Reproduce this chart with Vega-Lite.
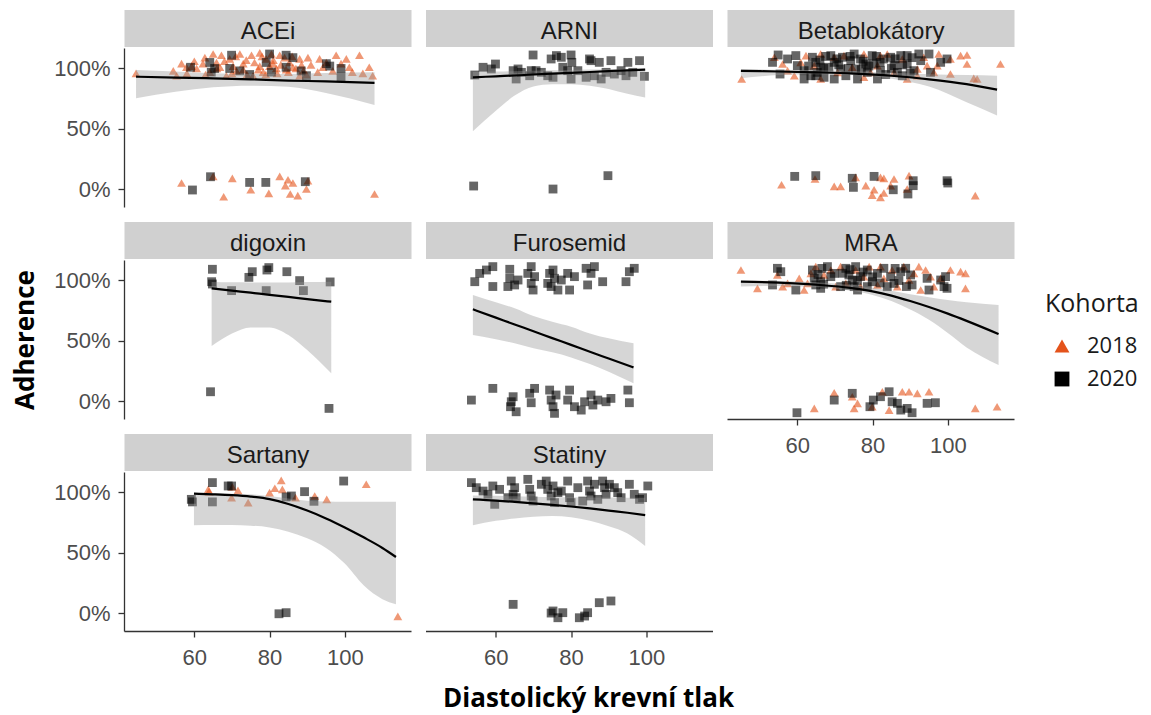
{
"$schema":"https://vega.github.io/schema/vega-lite/v6.json",
"padding":{"left":12,"top":19,"right":10,"bottom":5},
"background":"#ffffff",
"datasets":{
"pts":[
{"p":"ACEi","k":"2018","x":44.5,"y":0.96},{"p":"ACEi","k":"2018","x":54.4,"y":0.98},{"p":"ACEi","k":"2018","x":56.6,"y":1.04},{"p":"ACEi","k":"2018","x":59.3,"y":1.02},{"p":"ACEi","k":"2018","x":62.8,"y":1.09},{"p":"ACEi","k":"2018","x":65.0,"y":1.12},{"p":"ACEi","k":"2018","x":67.2,"y":1.11},{"p":"ACEi","k":"2018","x":69.4,"y":1.08},{"p":"ACEi","k":"2018","x":72.1,"y":1.12},{"p":"ACEi","k":"2018","x":73.0,"y":1.04},{"p":"ACEi","k":"2018","x":75.2,"y":1.11},{"p":"ACEi","k":"2018","x":77.4,"y":1.13},{"p":"ACEi","k":"2018","x":79.1,"y":1.08},{"p":"ACEi","k":"2018","x":80.5,"y":1.12},{"p":"ACEi","k":"2018","x":82.7,"y":1.11},{"p":"ACEi","k":"2018","x":85.3,"y":1.05},{"p":"ACEi","k":"2018","x":88.0,"y":1.08},{"p":"ACEi","k":"2018","x":90.2,"y":1.09},{"p":"ACEi","k":"2018","x":93.3,"y":1.08},{"p":"ACEi","k":"2018","x":94.2,"y":1.01},{"p":"ACEi","k":"2018","x":97.7,"y":1.11},{"p":"ACEi","k":"2018","x":100.4,"y":1.08},{"p":"ACEi","k":"2018","x":103.9,"y":1.11},{"p":"ACEi","k":"2018","x":106.5,"y":1.01},{"p":"ACEi","k":"2018","x":107.4,"y":0.94},{"p":"ACEi","k":"2018","x":104.8,"y":0.96},{"p":"ACEi","k":"2018","x":92.8,"y":0.97},{"p":"ACEi","k":"2018","x":89.8,"y":0.95},{"p":"ACEi","k":"2018","x":84.4,"y":0.99},{"p":"ACEi","k":"2018","x":81.8,"y":1.0},{"p":"ACEi","k":"2018","x":78.3,"y":0.97},{"p":"ACEi","k":"2018","x":75.6,"y":0.94},{"p":"ACEi","k":"2018","x":71.2,"y":0.98},{"p":"ACEi","k":"2018","x":66.8,"y":1.01},{"p":"ACEi","k":"2018","x":64.1,"y":0.97},{"p":"ACEi","k":"2018","x":62.3,"y":1.04},{"p":"ACEi","k":"2018","x":60.6,"y":1.0},{"p":"ACEi","k":"2018","x":57.9,"y":1.01},{"p":"ACEi","k":"2018","x":55.3,"y":0.94},{"p":"ACEi","k":"2018","x":68.5,"y":0.94},{"p":"ACEi","k":"2018","x":88.0,"y":0.94},{"p":"ACEi","k":"2018","x":95.1,"y":1.05},{"p":"ACEi","k":"2018","x":80.9,"y":1.04},{"p":"ACEi","k":"2018","x":77.4,"y":1.02},{"p":"ACEi","k":"2018","x":73.8,"y":1.07},{"p":"ACEi","k":"2018","x":70.3,"y":1.02},{"p":"ACEi","k":"2018","x":65.9,"y":1.05},{"p":"ACEi","k":"2018","x":86.2,"y":1.01},{"p":"ACEi","k":"2018","x":101.2,"y":1.01},{"p":"ACEi","k":"2018","x":96.8,"y":0.98},{"p":"ACEi","k":"2018","x":66,"y":1.0},{"p":"ACEi","k":"2018","x":68,"y":1.06},{"p":"ACEi","k":"2018","x":70,"y":0.96},{"p":"ACEi","k":"2018","x":71,"y":1.1},{"p":"ACEi","k":"2018","x":73,"y":0.99},{"p":"ACEi","k":"2018","x":74,"y":0.95},{"p":"ACEi","k":"2018","x":76,"y":1.05},{"p":"ACEi","k":"2018","x":77,"y":0.99},{"p":"ACEi","k":"2018","x":78,"y":1.1},{"p":"ACEi","k":"2018","x":79,"y":0.95},{"p":"ACEi","k":"2018","x":80,"y":1.02},{"p":"ACEi","k":"2018","x":81,"y":1.07},{"p":"ACEi","k":"2018","x":82,"y":0.96},{"p":"ACEi","k":"2018","x":83,"y":1.03},{"p":"ACEi","k":"2018","x":84,"y":1.09},{"p":"ACEi","k":"2018","x":85,"y":0.97},{"p":"ACEi","k":"2018","x":86,"y":1.1},{"p":"ACEi","k":"2018","x":87,"y":1.0},{"p":"ACEi","k":"2018","x":88.5,"y":1.03},{"p":"ACEi","k":"2018","x":89,"y":0.98},{"p":"ACEi","k":"2018","x":91,"y":1.03},{"p":"ACEi","k":"2018","x":63,"y":0.95},{"p":"ACEi","k":"2018","x":60,"y":1.06},{"p":"ACEi","k":"2018","x":58,"y":0.96},{"p":"ACEi","k":"2018","x":99,"y":1.04},{"p":"ACEi","k":"2018","x":102,"y":0.97},
{"p":"ACEi","k":"2018","x":56.6,"y":0.05},{"p":"ACEi","k":"2018","x":65.0,"y":0.105},{"p":"ACEi","k":"2018","x":67.8,"y":-0.064},{"p":"ACEi","k":"2018","x":70.1,"y":0.089},{"p":"ACEi","k":"2018","x":75.0,"y":-0.006},{"p":"ACEi","k":"2018","x":79.8,"y":-0.036},{"p":"ACEi","k":"2018","x":82.7,"y":0.105},{"p":"ACEi","k":"2018","x":84.2,"y":0.028},{"p":"ACEi","k":"2018","x":84.9,"y":0.077},{"p":"ACEi","k":"2018","x":85.5,"y":-0.041},{"p":"ACEi","k":"2018","x":86.2,"y":0.05},{"p":"ACEi","k":"2018","x":87.5,"y":-0.055},{"p":"ACEi","k":"2018","x":89.8,"y":0.0},{"p":"ACEi","k":"2018","x":90.2,"y":0.069},{"p":"ACEi","k":"2018","x":107.9,"y":-0.041},
{"p":"ACEi","k":"2020","x":59.0,"y":1.01},{"p":"ACEi","k":"2020","x":64.1,"y":1.05},{"p":"ACEi","k":"2020","x":64.5,"y":0.97},{"p":"ACEi","k":"2020","x":69.9,"y":1.11},{"p":"ACEi","k":"2020","x":69.4,"y":1.0},{"p":"ACEi","k":"2020","x":72.1,"y":0.98},{"p":"ACEi","k":"2020","x":74.7,"y":0.95},{"p":"ACEi","k":"2020","x":80.0,"y":1.12},{"p":"ACEi","k":"2020","x":80.5,"y":0.97},{"p":"ACEi","k":"2020","x":84.4,"y":1.11},{"p":"ACEi","k":"2020","x":84.4,"y":1.01},{"p":"ACEi","k":"2020","x":86.2,"y":1.09},{"p":"ACEi","k":"2020","x":88.4,"y":0.98},{"p":"ACEi","k":"2020","x":89.8,"y":0.94},{"p":"ACEi","k":"2020","x":95.1,"y":1.04},{"p":"ACEi","k":"2020","x":96.0,"y":1.02},{"p":"ACEi","k":"2020","x":99.0,"y":1.0},{"p":"ACEi","k":"2020","x":99.0,"y":0.93},{"p":"ACEi","k":"2020","x":65.4,"y":1.0},{"p":"ACEi","k":"2020","x":79.1,"y":1.05},
{"p":"ACEi","k":"2020","x":59.5,"y":-0.008},{"p":"ACEi","k":"2020","x":64.3,"y":0.102},{"p":"ACEi","k":"2020","x":74.7,"y":0.055},{"p":"ACEi","k":"2020","x":79.0,"y":0.055},{"p":"ACEi","k":"2020","x":89.5,"y":0.061},
{"p":"ARNI","k":"2020","x":54.4,"y":0.946},{"p":"ARNI","k":"2020","x":56.6,"y":1.01},{"p":"ARNI","k":"2020","x":59.9,"y":1.037},{"p":"ARNI","k":"2020","x":64.6,"y":0.982},{"p":"ARNI","k":"2020","x":65.4,"y":0.913},{"p":"ARNI","k":"2020","x":65.9,"y":0.996},{"p":"ARNI","k":"2020","x":69.0,"y":0.94},{"p":"ARNI","k":"2020","x":69.9,"y":1.112},{"p":"ARNI","k":"2020","x":69.4,"y":0.982},{"p":"ARNI","k":"2020","x":70.7,"y":0.982},{"p":"ARNI","k":"2020","x":73.8,"y":0.94},{"p":"ARNI","k":"2020","x":74.7,"y":1.079},{"p":"ARNI","k":"2020","x":75.2,"y":0.927},{"p":"ARNI","k":"2020","x":76.1,"y":1.107},{"p":"ARNI","k":"2020","x":77.4,"y":1.093},{"p":"ARNI","k":"2020","x":77.8,"y":1.01},{"p":"ARNI","k":"2020","x":79.1,"y":0.982},{"p":"ARNI","k":"2020","x":80.0,"y":1.112},{"p":"ARNI","k":"2020","x":80.2,"y":1.051},{"p":"ARNI","k":"2020","x":80.0,"y":0.913},{"p":"ARNI","k":"2020","x":84.0,"y":0.927},{"p":"ARNI","k":"2020","x":84.9,"y":1.079},{"p":"ARNI","k":"2020","x":85.3,"y":1.065},{"p":"ARNI","k":"2020","x":86.2,"y":0.94},{"p":"ARNI","k":"2020","x":87.5,"y":1.051},{"p":"ARNI","k":"2020","x":88.0,"y":0.913},{"p":"ARNI","k":"2020","x":89.3,"y":0.968},{"p":"ARNI","k":"2020","x":90.6,"y":1.065},{"p":"ARNI","k":"2020","x":91.5,"y":0.954},{"p":"ARNI","k":"2020","x":94.6,"y":0.94},{"p":"ARNI","k":"2020","x":95.1,"y":1.051},{"p":"ARNI","k":"2020","x":96.4,"y":0.968},{"p":"ARNI","k":"2020","x":98.2,"y":1.065},{"p":"ARNI","k":"2020","x":99.5,"y":0.935},{"p":"ARNI","k":"2020","x":66.8,"y":0.968},{"p":"ARNI","k":"2020","x":72.1,"y":0.968},{"p":"ARNI","k":"2020","x":81.8,"y":0.982},{"p":"ARNI","k":"2020","x":93.3,"y":0.982},{"p":"ARNI","k":"2020","x":58.8,"y":0.996},{"p":"ARNI","k":"2020","x":54.1,"y":0.025},{"p":"ARNI","k":"2020","x":75.2,"y":0.0},{"p":"ARNI","k":"2020","x":89.8,"y":0.111},
{"p":"Betablokátory","k":"2018","x":45.2,"y":0.913},{"p":"Betablokátory","k":"2018","x":53.9,"y":1.093},{"p":"Betablokátory","k":"2018","x":56.1,"y":1.037},{"p":"Betablokátory","k":"2018","x":60.9,"y":1.051},{"p":"Betablokátory","k":"2018","x":62.3,"y":1.107},{"p":"Betablokátory","k":"2018","x":66.2,"y":1.12},{"p":"Betablokátory","k":"2018","x":69.8,"y":1.093},{"p":"Betablokátory","k":"2018","x":72.4,"y":1.107},{"p":"Betablokátory","k":"2018","x":77.7,"y":1.12},{"p":"Betablokátory","k":"2018","x":82.1,"y":1.107},{"p":"Betablokátory","k":"2018","x":83.9,"y":1.12},{"p":"Betablokátory","k":"2018","x":87.9,"y":1.079},{"p":"Betablokátory","k":"2018","x":91.9,"y":0.996},{"p":"Betablokátory","k":"2018","x":93.6,"y":1.093},{"p":"Betablokátory","k":"2018","x":97.6,"y":1.12},{"p":"Betablokátory","k":"2018","x":100.7,"y":1.079},{"p":"Betablokátory","k":"2018","x":103.4,"y":1.107},{"p":"Betablokátory","k":"2018","x":105.1,"y":1.112},{"p":"Betablokátory","k":"2018","x":105.1,"y":1.037},{"p":"Betablokátory","k":"2018","x":106.9,"y":0.918},{"p":"Betablokátory","k":"2018","x":114.0,"y":1.037},{"p":"Betablokátory","k":"2018","x":91.9,"y":0.94},{"p":"Betablokátory","k":"2018","x":96.3,"y":0.968},{"p":"Betablokátory","k":"2018","x":89.2,"y":0.913},{"p":"Betablokátory","k":"2018","x":77.7,"y":0.927},{"p":"Betablokátory","k":"2018","x":66.2,"y":0.913},{"p":"Betablokátory","k":"2018","x":59.2,"y":0.94},{"p":"Betablokátory","k":"2018","x":74.6,"y":1.01},{"p":"Betablokátory","k":"2018","x":81.3,"y":1.024},{"p":"Betablokátory","k":"2018","x":85.7,"y":0.968},{"p":"Betablokátory","k":"2018","x":57.4,"y":0.982},{"p":"Betablokátory","k":"2018","x":70.7,"y":0.968},{"p":"Betablokátory","k":"2018","x":79.5,"y":0.968},{"p":"Betablokátory","k":"2018","x":97.2,"y":1.024},{"p":"Betablokátory","k":"2018","x":100.7,"y":0.954},{"p":"Betablokátory","k":"2018","x":107.8,"y":0.913},{"p":"Betablokátory","k":"2018","x":64.5,"y":1.024},{"p":"Betablokátory","k":"2018","x":94.5,"y":1.024},
{"p":"Betablokátory","k":"2018","x":55.8,"y":0.036},{"p":"Betablokátory","k":"2018","x":64.7,"y":0.083},{"p":"Betablokátory","k":"2018","x":69.8,"y":0.022},{"p":"Betablokátory","k":"2018","x":71.5,"y":0.022},{"p":"Betablokátory","k":"2018","x":75.5,"y":0.097},{"p":"Betablokátory","k":"2018","x":78.2,"y":0.028},{"p":"Betablokátory","k":"2018","x":80.4,"y":-0.006},{"p":"Betablokátory","k":"2018","x":82.1,"y":0.097},{"p":"Betablokátory","k":"2018","x":83.0,"y":0.089},{"p":"Betablokátory","k":"2018","x":79.9,"y":-0.05},{"p":"Betablokátory","k":"2018","x":82.1,"y":-0.069},{"p":"Betablokátory","k":"2018","x":85.7,"y":0.083},{"p":"Betablokátory","k":"2018","x":84.8,"y":0.028},{"p":"Betablokátory","k":"2018","x":89.7,"y":0.111},{"p":"Betablokátory","k":"2018","x":89.2,"y":0.0},{"p":"Betablokátory","k":"2018","x":107.3,"y":-0.055},{"p":"Betablokátory","k":"2018","x":83.0,"y":-0.033},
{"p":"Betablokátory","k":"2020","x":53.4,"y":1.051},{"p":"Betablokátory","k":"2020","x":54.9,"y":1.112},{"p":"Betablokátory","k":"2020","x":55.4,"y":0.954},{"p":"Betablokátory","k":"2020","x":59.6,"y":1.107},{"p":"Betablokátory","k":"2020","x":60.0,"y":1.024},{"p":"Betablokátory","k":"2020","x":64.0,"y":1.093},{"p":"Betablokátory","k":"2020","x":64.9,"y":1.051},{"p":"Betablokátory","k":"2020","x":65.3,"y":0.968},{"p":"Betablokátory","k":"2020","x":66.2,"y":1.01},{"p":"Betablokátory","k":"2020","x":68.9,"y":1.107},{"p":"Betablokátory","k":"2020","x":69.8,"y":1.051},{"p":"Betablokátory","k":"2020","x":69.8,"y":0.913},{"p":"Betablokátory","k":"2020","x":71.5,"y":0.996},{"p":"Betablokátory","k":"2020","x":72.9,"y":0.94},{"p":"Betablokátory","k":"2020","x":74.2,"y":1.065},{"p":"Betablokátory","k":"2020","x":75.1,"y":1.12},{"p":"Betablokátory","k":"2020","x":75.5,"y":0.996},{"p":"Betablokátory","k":"2020","x":76.8,"y":1.079},{"p":"Betablokátory","k":"2020","x":78.6,"y":0.968},{"p":"Betablokátory","k":"2020","x":79.9,"y":1.107},{"p":"Betablokátory","k":"2020","x":80.4,"y":1.037},{"p":"Betablokátory","k":"2020","x":82.1,"y":0.982},{"p":"Betablokátory","k":"2020","x":83.0,"y":1.079},{"p":"Betablokátory","k":"2020","x":84.8,"y":1.093},{"p":"Betablokátory","k":"2020","x":85.7,"y":1.024},{"p":"Betablokátory","k":"2020","x":87.5,"y":1.107},{"p":"Betablokátory","k":"2020","x":87.9,"y":0.94},{"p":"Betablokátory","k":"2020","x":89.2,"y":1.037},{"p":"Betablokátory","k":"2020","x":91.0,"y":0.982},{"p":"Betablokátory","k":"2020","x":92.8,"y":1.065},{"p":"Betablokátory","k":"2020","x":95.0,"y":1.12},{"p":"Betablokátory","k":"2020","x":95.4,"y":0.968},{"p":"Betablokátory","k":"2020","x":98.1,"y":1.051},{"p":"Betablokátory","k":"2020","x":99.8,"y":1.079},{"p":"Betablokátory","k":"2020","x":63.6,"y":0.94},{"p":"Betablokátory","k":"2020","x":67.1,"y":0.927},{"p":"Betablokátory","k":"2020","x":61.8,"y":0.982},{"p":"Betablokátory","k":"2020","x":57.4,"y":1.079},{"p":"Betablokátory","k":"2020","x":81.3,"y":0.913},{"p":"Betablokátory","k":"2020","x":76.0,"y":0.913},{"p":"Betablokátory","k":"2020","x":89.2,"y":1.107},{"p":"Betablokátory","k":"2020","x":92.3,"y":1.12},{"p":"Betablokátory","k":"2020","x":86.6,"y":0.968},{"p":"Betablokátory","k":"2020","x":72.0,"y":1.093},{"p":"Betablokátory","k":"2020","x":78.2,"y":1.037},{"p":"Betablokátory","k":"2020","x":68.4,"y":1.01},{"p":"Betablokátory","k":"2020","x":64.9,"y":0.94},{"p":"Betablokátory","k":"2020","x":61.8,"y":0.913},{"p":"Betablokátory","k":"2020","x":66,"y":1.07},{"p":"Betablokátory","k":"2020","x":67,"y":1.0},{"p":"Betablokátory","k":"2020","x":70.5,"y":1.08},{"p":"Betablokátory","k":"2020","x":71,"y":1.03},{"p":"Betablokátory","k":"2020","x":73.5,"y":1.0},{"p":"Betablokátory","k":"2020","x":74,"y":1.1},{"p":"Betablokátory","k":"2020","x":77,"y":0.99},{"p":"Betablokátory","k":"2020","x":77.5,"y":1.06},{"p":"Betablokátory","k":"2020","x":79,"y":1.02},{"p":"Betablokátory","k":"2020","x":81,"y":1.1},{"p":"Betablokátory","k":"2020","x":82,"y":1.05},{"p":"Betablokátory","k":"2020","x":83.5,"y":0.95},{"p":"Betablokátory","k":"2020","x":85,"y":1.0},{"p":"Betablokátory","k":"2020","x":86,"y":1.08},{"p":"Betablokátory","k":"2020","x":88,"y":1.03},{"p":"Betablokátory","k":"2020","x":90,"y":0.96},{"p":"Betablokátory","k":"2020","x":90.5,"y":1.09},{"p":"Betablokátory","k":"2020","x":67.5,"y":1.1},{"p":"Betablokátory","k":"2020","x":63,"y":1.02},
{"p":"Betablokátory","k":"2020","x":59.3,"y":0.105},{"p":"Betablokátory","k":"2020","x":64.9,"y":0.111},{"p":"Betablokátory","k":"2020","x":74.6,"y":0.089},{"p":"Betablokátory","k":"2020","x":74.9,"y":0.014},{"p":"Betablokátory","k":"2020","x":80.4,"y":0.105},{"p":"Betablokátory","k":"2020","x":85.5,"y":-0.006},{"p":"Betablokátory","k":"2020","x":90.8,"y":0.069},{"p":"Betablokátory","k":"2020","x":90.8,"y":0.028},{"p":"Betablokátory","k":"2020","x":89.4,"y":-0.041},{"p":"Betablokátory","k":"2020","x":99.8,"y":0.069},{"p":"Betablokátory","k":"2020","x":100.0,"y":0.05},
{"p":"digoxin","k":"2020","x":64.8,"y":1.093},{"p":"digoxin","k":"2020","x":64.6,"y":0.99},{"p":"digoxin","k":"2020","x":64.8,"y":0.971},{"p":"digoxin","k":"2020","x":69.9,"y":0.916},{"p":"digoxin","k":"2020","x":74.5,"y":1.026},{"p":"digoxin","k":"2020","x":75.4,"y":1.073},{"p":"digoxin","k":"2020","x":79.3,"y":1.087},{"p":"digoxin","k":"2020","x":79.8,"y":1.107},{"p":"digoxin","k":"2020","x":79.1,"y":0.916},{"p":"digoxin","k":"2020","x":84.6,"y":1.073},{"p":"digoxin","k":"2020","x":88.0,"y":0.999},{"p":"digoxin","k":"2020","x":89.0,"y":0.916},{"p":"digoxin","k":"2020","x":96.1,"y":0.988},{"p":"digoxin","k":"2020","x":64.3,"y":0.077},{"p":"digoxin","k":"2020","x":95.8,"y":-0.061},
{"p":"Furosemid","k":"2020","x":54.4,"y":0.99},{"p":"Furosemid","k":"2020","x":55.7,"y":1.059},{"p":"Furosemid","k":"2020","x":57.5,"y":1.087},{"p":"Furosemid","k":"2020","x":59.2,"y":1.115},{"p":"Furosemid","k":"2020","x":59.2,"y":0.95},{"p":"Furosemid","k":"2020","x":63.7,"y":1.093},{"p":"Furosemid","k":"2020","x":63.7,"y":1.018},{"p":"Furosemid","k":"2020","x":65.0,"y":0.963},{"p":"Furosemid","k":"2020","x":65.9,"y":1.004},{"p":"Furosemid","k":"2020","x":68.5,"y":1.059},{"p":"Furosemid","k":"2020","x":69.4,"y":0.976},{"p":"Furosemid","k":"2020","x":69.9,"y":0.921},{"p":"Furosemid","k":"2020","x":70.3,"y":1.032},{"p":"Furosemid","k":"2020","x":73.8,"y":0.976},{"p":"Furosemid","k":"2020","x":74.3,"y":1.059},{"p":"Furosemid","k":"2020","x":75.2,"y":1.087},{"p":"Furosemid","k":"2020","x":75.6,"y":1.018},{"p":"Furosemid","k":"2020","x":76.5,"y":0.921},{"p":"Furosemid","k":"2020","x":77.4,"y":1.004},{"p":"Furosemid","k":"2020","x":79.1,"y":1.059},{"p":"Furosemid","k":"2020","x":79.6,"y":0.921},{"p":"Furosemid","k":"2020","x":80.9,"y":1.032},{"p":"Furosemid","k":"2020","x":84.0,"y":1.101},{"p":"Furosemid","k":"2020","x":84.4,"y":0.963},{"p":"Furosemid","k":"2020","x":85.3,"y":1.059},{"p":"Furosemid","k":"2020","x":88.4,"y":0.99},{"p":"Furosemid","k":"2020","x":94.6,"y":0.99},{"p":"Furosemid","k":"2020","x":95.5,"y":1.073},{"p":"Furosemid","k":"2020","x":96.8,"y":1.101},{"p":"Furosemid","k":"2020","x":63.2,"y":0.95},{"p":"Furosemid","k":"2020","x":69.4,"y":1.115},{"p":"Furosemid","k":"2020","x":74.7,"y":0.95},{"p":"Furosemid","k":"2020","x":86.2,"y":1.115},
{"p":"Furosemid","k":"2020","x":53.5,"y":0.008},{"p":"Furosemid","k":"2020","x":59.2,"y":0.105},{"p":"Furosemid","k":"2020","x":63.9,"y":-0.047},{"p":"Furosemid","k":"2020","x":64.6,"y":0.036},{"p":"Furosemid","k":"2020","x":65.4,"y":-0.089},{"p":"Furosemid","k":"2020","x":69.0,"y":0.064},{"p":"Furosemid","k":"2020","x":69.4,"y":-0.014},{"p":"Furosemid","k":"2020","x":70.3,"y":0.105},{"p":"Furosemid","k":"2020","x":74.3,"y":0.091},{"p":"Furosemid","k":"2020","x":74.7,"y":0.008},{"p":"Furosemid","k":"2020","x":75.2,"y":-0.047},{"p":"Furosemid","k":"2020","x":75.6,"y":-0.102},{"p":"Furosemid","k":"2020","x":79.1,"y":0.008},{"p":"Furosemid","k":"2020","x":79.6,"y":0.091},{"p":"Furosemid","k":"2020","x":82.7,"y":-0.075},{"p":"Furosemid","k":"2020","x":83.6,"y":-0.006},{"p":"Furosemid","k":"2020","x":85.3,"y":0.05},{"p":"Furosemid","k":"2020","x":87.1,"y":0.008},{"p":"Furosemid","k":"2020","x":89.3,"y":-0.006},{"p":"Furosemid","k":"2020","x":90.6,"y":0.022},{"p":"Furosemid","k":"2020","x":95.1,"y":0.091},{"p":"Furosemid","k":"2020","x":95.5,"y":-0.014},{"p":"Furosemid","k":"2020","x":64.1,"y":-0.006},{"p":"Furosemid","k":"2020","x":76.0,"y":0.05},{"p":"Furosemid","k":"2020","x":80.9,"y":-0.047},{"p":"Furosemid","k":"2020","x":85.8,"y":-0.033},
{"p":"MRA","k":"2018","x":45.0,"y":1.087},{"p":"MRA","k":"2018","x":49.4,"y":0.935},{"p":"MRA","k":"2018","x":54.7,"y":1.046},{"p":"MRA","k":"2018","x":56.1,"y":0.949},{"p":"MRA","k":"2018","x":57.4,"y":0.976},{"p":"MRA","k":"2018","x":60.5,"y":1.018},{"p":"MRA","k":"2018","x":62.7,"y":0.976},{"p":"MRA","k":"2018","x":64.9,"y":1.115},{"p":"MRA","k":"2018","x":67.1,"y":1.046},{"p":"MRA","k":"2018","x":68.9,"y":1.087},{"p":"MRA","k":"2018","x":70.2,"y":0.949},{"p":"MRA","k":"2018","x":71.5,"y":1.115},{"p":"MRA","k":"2018","x":72.9,"y":0.976},{"p":"MRA","k":"2018","x":75.5,"y":1.087},{"p":"MRA","k":"2018","x":77.7,"y":1.032},{"p":"MRA","k":"2018","x":79.1,"y":1.115},{"p":"MRA","k":"2018","x":82.1,"y":1.115},{"p":"MRA","k":"2018","x":83.0,"y":1.018},{"p":"MRA","k":"2018","x":85.2,"y":1.087},{"p":"MRA","k":"2018","x":86.6,"y":0.949},{"p":"MRA","k":"2018","x":88.3,"y":1.115},{"p":"MRA","k":"2018","x":89.7,"y":1.004},{"p":"MRA","k":"2018","x":91.0,"y":1.059},{"p":"MRA","k":"2018","x":92.3,"y":1.115},{"p":"MRA","k":"2018","x":94.1,"y":1.087},{"p":"MRA","k":"2018","x":95.4,"y":1.032},{"p":"MRA","k":"2018","x":98.1,"y":1.018},{"p":"MRA","k":"2018","x":100.7,"y":1.087},{"p":"MRA","k":"2018","x":103.4,"y":1.073},{"p":"MRA","k":"2018","x":104.7,"y":1.059},{"p":"MRA","k":"2018","x":104.7,"y":0.935},{"p":"MRA","k":"2018","x":63.6,"y":1.059},{"p":"MRA","k":"2018","x":76.8,"y":0.949},{"p":"MRA","k":"2018","x":81.3,"y":0.963},{"p":"MRA","k":"2018","x":92.8,"y":0.921},{"p":"MRA","k":"2018","x":96.3,"y":0.949},{"p":"MRA","k":"2018","x":61.8,"y":0.921},
{"p":"MRA","k":"2018","x":64.5,"y":-0.061},{"p":"MRA","k":"2018","x":69.8,"y":0.069},{"p":"MRA","k":"2018","x":74.6,"y":0.036},{"p":"MRA","k":"2018","x":75.1,"y":-0.061},{"p":"MRA","k":"2018","x":76.0,"y":-0.019},{"p":"MRA","k":"2018","x":79.9,"y":-0.047},{"p":"MRA","k":"2018","x":82.6,"y":0.077},{"p":"MRA","k":"2018","x":84.4,"y":-0.075},{"p":"MRA","k":"2018","x":87.9,"y":0.077},{"p":"MRA","k":"2018","x":89.7,"y":0.077},{"p":"MRA","k":"2018","x":91.9,"y":0.064},{"p":"MRA","k":"2018","x":95.0,"y":0.077},{"p":"MRA","k":"2018","x":107.3,"y":-0.061},{"p":"MRA","k":"2018","x":113.1,"y":-0.047},
{"p":"MRA","k":"2020","x":53.4,"y":0.963},{"p":"MRA","k":"2020","x":54.7,"y":1.101},{"p":"MRA","k":"2020","x":55.6,"y":1.073},{"p":"MRA","k":"2020","x":59.6,"y":0.921},{"p":"MRA","k":"2020","x":64.0,"y":1.087},{"p":"MRA","k":"2020","x":64.5,"y":1.018},{"p":"MRA","k":"2020","x":64.9,"y":0.963},{"p":"MRA","k":"2020","x":66.2,"y":0.99},{"p":"MRA","k":"2020","x":68.0,"y":1.115},{"p":"MRA","k":"2020","x":68.9,"y":1.032},{"p":"MRA","k":"2020","x":69.8,"y":1.059},{"p":"MRA","k":"2020","x":71.5,"y":0.949},{"p":"MRA","k":"2020","x":72.9,"y":1.101},{"p":"MRA","k":"2020","x":73.7,"y":1.046},{"p":"MRA","k":"2020","x":74.6,"y":1.004},{"p":"MRA","k":"2020","x":75.1,"y":0.949},{"p":"MRA","k":"2020","x":75.5,"y":1.115},{"p":"MRA","k":"2020","x":76.0,"y":0.921},{"p":"MRA","k":"2020","x":76.8,"y":1.032},{"p":"MRA","k":"2020","x":78.6,"y":1.087},{"p":"MRA","k":"2020","x":79.9,"y":0.99},{"p":"MRA","k":"2020","x":81.3,"y":1.059},{"p":"MRA","k":"2020","x":83.0,"y":1.101},{"p":"MRA","k":"2020","x":83.9,"y":0.949},{"p":"MRA","k":"2020","x":84.8,"y":1.032},{"p":"MRA","k":"2020","x":85.7,"y":0.976},{"p":"MRA","k":"2020","x":87.5,"y":1.073},{"p":"MRA","k":"2020","x":88.8,"y":1.101},{"p":"MRA","k":"2020","x":90.1,"y":1.046},{"p":"MRA","k":"2020","x":90.5,"y":0.963},{"p":"MRA","k":"2020","x":94.5,"y":1.018},{"p":"MRA","k":"2020","x":95.0,"y":0.921},{"p":"MRA","k":"2020","x":98.1,"y":1.004},{"p":"MRA","k":"2020","x":99.0,"y":0.949},{"p":"MRA","k":"2020","x":99.8,"y":0.935},{"p":"MRA","k":"2020","x":99.4,"y":1.032},{"p":"MRA","k":"2020","x":78.6,"y":0.949},{"p":"MRA","k":"2020","x":66.2,"y":0.935},{"p":"MRA","k":"2020","x":65.5,"y":1.05},{"p":"MRA","k":"2020","x":66.5,"y":1.1},{"p":"MRA","k":"2020","x":67,"y":0.97},{"p":"MRA","k":"2020","x":72,"y":1.06},{"p":"MRA","k":"2020","x":73,"y":0.96},{"p":"MRA","k":"2020","x":74,"y":1.09},{"p":"MRA","k":"2020","x":76,"y":1.0},{"p":"MRA","k":"2020","x":77.5,"y":1.07},{"p":"MRA","k":"2020","x":80,"y":1.03},{"p":"MRA","k":"2020","x":82,"y":0.98},{"p":"MRA","k":"2020","x":86,"y":1.1},{"p":"MRA","k":"2020","x":87,"y":1.0},{"p":"MRA","k":"2020","x":89,"y":0.95},
{"p":"MRA","k":"2020","x":59.9,"y":-0.097},{"p":"MRA","k":"2020","x":69.8,"y":0.008},{"p":"MRA","k":"2020","x":74.6,"y":0.064},{"p":"MRA","k":"2020","x":79.3,"y":-0.047},{"p":"MRA","k":"2020","x":80.2,"y":0.008},{"p":"MRA","k":"2020","x":82.1,"y":0.036},{"p":"MRA","k":"2020","x":84.4,"y":0.077},{"p":"MRA","k":"2020","x":85.2,"y":-0.006},{"p":"MRA","k":"2020","x":86.6,"y":-0.019},{"p":"MRA","k":"2020","x":87.5,"y":-0.075},{"p":"MRA","k":"2020","x":89.2,"y":-0.061},{"p":"MRA","k":"2020","x":90.5,"y":-0.097},{"p":"MRA","k":"2020","x":94.5,"y":-0.019},{"p":"MRA","k":"2020","x":96.7,"y":-0.014},
{"p":"Sartany","k":"2018","x":63.7,"y":1.026},{"p":"Sartany","k":"2018","x":63.9,"y":1.007},{"p":"Sartany","k":"2018","x":69.9,"y":0.957},{"p":"Sartany","k":"2018","x":70.1,"y":1.046},{"p":"Sartany","k":"2018","x":71.6,"y":1.018},{"p":"Sartany","k":"2018","x":74.3,"y":0.916},{"p":"Sartany","k":"2018","x":80.0,"y":0.999},{"p":"Sartany","k":"2018","x":81.4,"y":1.035},{"p":"Sartany","k":"2018","x":83.1,"y":1.101},{"p":"Sartany","k":"2018","x":83.4,"y":1.026},{"p":"Sartany","k":"2018","x":86.9,"y":0.957},{"p":"Sartany","k":"2018","x":92.0,"y":0.971},{"p":"Sartany","k":"2018","x":95.2,"y":0.943},{"p":"Sartany","k":"2018","x":105.7,"y":1.068},{"p":"Sartany","k":"2018","x":114.1,"y":-0.028},
{"p":"Sartany","k":"2020","x":59.2,"y":0.943},{"p":"Sartany","k":"2020","x":59.5,"y":0.922},{"p":"Sartany","k":"2020","x":64.8,"y":1.082},{"p":"Sartany","k":"2020","x":64.8,"y":0.922},{"p":"Sartany","k":"2020","x":69.0,"y":1.054},{"p":"Sartany","k":"2020","x":69.9,"y":1.054},{"p":"Sartany","k":"2020","x":84.4,"y":0.963},{"p":"Sartany","k":"2020","x":85.8,"y":0.971},{"p":"Sartany","k":"2020","x":89.3,"y":1.007},{"p":"Sartany","k":"2020","x":91.8,"y":0.927},{"p":"Sartany","k":"2020","x":99.7,"y":1.095},{"p":"Sartany","k":"2020","x":82.5,"y":-0.006},{"p":"Sartany","k":"2020","x":84.4,"y":0.003},
{"p":"Statiny","k":"2020","x":53.5,"y":1.082},{"p":"Statiny","k":"2020","x":54.8,"y":1.04},{"p":"Statiny","k":"2020","x":56.6,"y":1.012},{"p":"Statiny","k":"2020","x":59.2,"y":1.054},{"p":"Statiny","k":"2020","x":59.7,"y":0.902},{"p":"Statiny","k":"2020","x":61.0,"y":1.026},{"p":"Statiny","k":"2020","x":64.1,"y":1.095},{"p":"Statiny","k":"2020","x":64.6,"y":0.985},{"p":"Statiny","k":"2020","x":65.0,"y":1.04},{"p":"Statiny","k":"2020","x":65.4,"y":0.957},{"p":"Statiny","k":"2020","x":68.5,"y":1.109},{"p":"Statiny","k":"2020","x":69.0,"y":1.026},{"p":"Statiny","k":"2020","x":69.4,"y":0.971},{"p":"Statiny","k":"2020","x":69.9,"y":0.929},{"p":"Statiny","k":"2020","x":73.4,"y":1.095},{"p":"Statiny","k":"2020","x":73.8,"y":1.026},{"p":"Statiny","k":"2020","x":74.7,"y":0.971},{"p":"Statiny","k":"2020","x":75.2,"y":1.054},{"p":"Statiny","k":"2020","x":75.6,"y":0.916},{"p":"Statiny","k":"2020","x":76.5,"y":0.999},{"p":"Statiny","k":"2020","x":79.1,"y":1.095},{"p":"Statiny","k":"2020","x":79.6,"y":0.957},{"p":"Statiny","k":"2020","x":80.0,"y":0.916},{"p":"Statiny","k":"2020","x":81.8,"y":1.04},{"p":"Statiny","k":"2020","x":84.4,"y":1.095},{"p":"Statiny","k":"2020","x":84.9,"y":1.012},{"p":"Statiny","k":"2020","x":85.3,"y":0.971},{"p":"Statiny","k":"2020","x":86.2,"y":1.068},{"p":"Statiny","k":"2020","x":88.4,"y":1.095},{"p":"Statiny","k":"2020","x":88.9,"y":1.04},{"p":"Statiny","k":"2020","x":89.3,"y":0.985},{"p":"Statiny","k":"2020","x":90.2,"y":1.068},{"p":"Statiny","k":"2020","x":92.4,"y":0.999},{"p":"Statiny","k":"2020","x":93.3,"y":0.957},{"p":"Statiny","k":"2020","x":95.5,"y":1.068},{"p":"Statiny","k":"2020","x":96.8,"y":0.985},{"p":"Statiny","k":"2020","x":98.2,"y":0.943},{"p":"Statiny","k":"2020","x":100.4,"y":1.054},{"p":"Statiny","k":"2020","x":99.0,"y":0.957},{"p":"Statiny","k":"2020","x":63.2,"y":0.957},{"p":"Statiny","k":"2020","x":72.1,"y":1.068},{"p":"Statiny","k":"2020","x":83.1,"y":0.929},{"p":"Statiny","k":"2020","x":91.5,"y":1.04},{"p":"Statiny","k":"2020","x":57.9,"y":0.985},{"p":"Statiny","k":"2020","x":77.4,"y":1.012},{"p":"Statiny","k":"2020","x":87.1,"y":0.943},
{"p":"Statiny","k":"2020","x":64.6,"y":0.072},{"p":"Statiny","k":"2020","x":74.7,"y":0.0},{"p":"Statiny","k":"2020","x":75.2,"y":0.017},{"p":"Statiny","k":"2020","x":76.5,"y":-0.039},{"p":"Statiny","k":"2020","x":77.8,"y":0.003},{"p":"Statiny","k":"2020","x":82.2,"y":-0.039},{"p":"Statiny","k":"2020","x":83.6,"y":-0.025},{"p":"Statiny","k":"2020","x":84.4,"y":0.003},{"p":"Statiny","k":"2020","x":87.5,"y":0.086},{"p":"Statiny","k":"2020","x":90.6,"y":0.1}
],
"fit":[
{"p":"ACEi","x":44.5,"f":0.932,"lo":0.753,"hi":0.988},{"p":"ACEi","x":55,"f":0.925,"lo":0.808,"hi":0.975},{"p":"ACEi","x":65,"f":0.918,"lo":0.844,"hi":0.96},{"p":"ACEi","x":75,"f":0.91,"lo":0.857,"hi":0.954},{"p":"ACEi","x":85,"f":0.9,"lo":0.848,"hi":0.954},{"p":"ACEi","x":95,"f":0.893,"lo":0.797,"hi":0.962},{"p":"ACEi","x":107.9,"f":0.88,"lo":0.697,"hi":0.968},
{"p":"ARNI","x":53.9,"f":0.927,"lo":0.48,"hi":0.97},{"p":"ARNI","x":60,"f":0.935,"lo":0.65,"hi":0.975},{"p":"ARNI","x":65,"f":0.942,"lo":0.775,"hi":0.978},{"p":"ARNI","x":70,"f":0.95,"lo":0.85,"hi":0.982},{"p":"ARNI","x":75,"f":0.957,"lo":0.87,"hi":0.985},{"p":"ARNI","x":80,"f":0.964,"lo":0.87,"hi":0.988},{"p":"ARNI","x":85,"f":0.971,"lo":0.857,"hi":0.991},{"p":"ARNI","x":90,"f":0.978,"lo":0.83,"hi":0.994},{"p":"ARNI","x":95,"f":0.985,"lo":0.79,"hi":0.996},{"p":"ARNI","x":99.7,"f":0.99,"lo":0.76,"hi":0.998},
{"p":"Betablokátory","x":45,"f":0.98,"lo":0.92,"hi":0.995},{"p":"Betablokátory","x":55,"f":0.975,"lo":0.945,"hi":0.99},{"p":"Betablokátory","x":65,"f":0.968,"lo":0.952,"hi":0.985},{"p":"Betablokátory","x":75,"f":0.958,"lo":0.945,"hi":0.978},{"p":"Betablokátory","x":85,"f":0.94,"lo":0.915,"hi":0.965},{"p":"Betablokátory","x":95,"f":0.91,"lo":0.85,"hi":0.952},{"p":"Betablokátory","x":105,"f":0.87,"lo":0.72,"hi":0.945},{"p":"Betablokátory","x":113.1,"f":0.825,"lo":0.61,"hi":0.94},
{"p":"digoxin","x":64.6,"f":0.935,"lo":0.456,"hi":0.988},{"p":"digoxin","x":70,"f":0.916,"lo":0.56,"hi":0.985},{"p":"digoxin","x":75,"f":0.899,"lo":0.611,"hi":0.984},{"p":"digoxin","x":80,"f":0.881,"lo":0.611,"hi":0.983},{"p":"digoxin","x":85,"f":0.864,"lo":0.548,"hi":0.984},{"p":"digoxin","x":90,"f":0.846,"lo":0.423,"hi":0.987},{"p":"digoxin","x":96.4,"f":0.824,"lo":0.23,"hi":0.99},
{"p":"Furosemid","x":53.9,"f":0.761,"lo":0.548,"hi":0.88},{"p":"Furosemid","x":60,"f":0.692,"lo":0.512,"hi":0.819},{"p":"Furosemid","x":65,"f":0.635,"lo":0.479,"hi":0.769},{"p":"Furosemid","x":70,"f":0.579,"lo":0.437,"hi":0.705},{"p":"Furosemid","x":75,"f":0.522,"lo":0.404,"hi":0.658},{"p":"Furosemid","x":80,"f":0.466,"lo":0.362,"hi":0.617},{"p":"Furosemid","x":85,"f":0.409,"lo":0.307,"hi":0.561},{"p":"Furosemid","x":90,"f":0.353,"lo":0.243,"hi":0.52},{"p":"Furosemid","x":96.6,"f":0.279,"lo":0.147,"hi":0.479},
{"p":"MRA","x":45,"f":0.99,"lo":0.95,"hi":0.998},{"p":"MRA","x":55,"f":0.982,"lo":0.955,"hi":0.995},{"p":"MRA","x":65,"f":0.965,"lo":0.945,"hi":0.985},{"p":"MRA","x":75,"f":0.935,"lo":0.91,"hi":0.96},{"p":"MRA","x":80,"f":0.91,"lo":0.88,"hi":0.94},{"p":"MRA","x":85,"f":0.875,"lo":0.83,"hi":0.915},{"p":"MRA","x":90,"f":0.83,"lo":0.76,"hi":0.885},{"p":"MRA","x":95,"f":0.78,"lo":0.675,"hi":0.86},{"p":"MRA","x":100,"f":0.725,"lo":0.565,"hi":0.838},{"p":"MRA","x":105,"f":0.665,"lo":0.445,"hi":0.82},{"p":"MRA","x":113.5,"f":0.556,"lo":0.3,"hi":0.797},
{"p":"Sartany","x":59.9,"f":0.99,"lo":0.728,"hi":0.997},{"p":"Sartany","x":65,"f":0.985,"lo":0.73,"hi":0.995},{"p":"Sartany","x":70,"f":0.978,"lo":0.73,"hi":0.99},{"p":"Sartany","x":75,"f":0.966,"lo":0.725,"hi":0.985},{"p":"Sartany","x":80,"f":0.945,"lo":0.71,"hi":0.97},{"p":"Sartany","x":85,"f":0.905,"lo":0.675,"hi":0.95},{"p":"Sartany","x":90,"f":0.85,"lo":0.62,"hi":0.932},{"p":"Sartany","x":95,"f":0.785,"lo":0.54,"hi":0.926},{"p":"Sartany","x":100,"f":0.71,"lo":0.41,"hi":0.924},{"p":"Sartany","x":105,"f":0.628,"lo":0.23,"hi":0.924},{"p":"Sartany","x":110,"f":0.54,"lo":0.115,"hi":0.924},{"p":"Sartany","x":113.6,"f":0.465,"lo":0.072,"hi":0.924},
{"p":"Statiny","x":53.9,"f":0.943,"lo":0.728,"hi":0.975},{"p":"Statiny","x":60,"f":0.933,"lo":0.765,"hi":0.972},{"p":"Statiny","x":65,"f":0.922,"lo":0.785,"hi":0.968},{"p":"Statiny","x":70,"f":0.91,"lo":0.798,"hi":0.965},{"p":"Statiny","x":75,"f":0.898,"lo":0.805,"hi":0.962},{"p":"Statiny","x":80,"f":0.884,"lo":0.795,"hi":0.96},{"p":"Statiny","x":85,"f":0.868,"lo":0.765,"hi":0.958},{"p":"Statiny","x":90,"f":0.85,"lo":0.72,"hi":0.958},{"p":"Statiny","x":95,"f":0.832,"lo":0.66,"hi":0.957},{"p":"Statiny","x":99.7,"f":0.813,"lo":0.556,"hi":0.957}
]
},
"columns":3,
"bounds":"flush",
"align":"all",
"spacing":{"row":53,"column":14.5},
"concat":[
{"width":287,"height":159,"resolve":{"axis":{"x":"independent","y":"independent"}},"layer":[
 {"data":{"name":"pts"},"transform":[{"filter":"datum.p=='ACEi'"}],"mark":{"type":"point","filled":true,"opacity":0.6,"size":78,"strokeWidth":0},
  "encoding":{"x":{"field":"x","type":"quantitative","scale":{"domain":[41.3,117.6],"nice":false,"zero":false},"axis":null},
   "y":{"field":"y","type":"quantitative","scale":{"domain":[-0.149,1.17],"nice":false,"zero":false},"axis":{"orient":"left","values":[0,0.5,1],"format":".0%","title":null,"labelPadding":8}},
   "shape":{"field":"k","type":"nominal","scale":{"domain":["2018","2020"],"range":["triangle-up","square"]},"title":"Kohorta"},
   "color":{"field":"k","type":"nominal","scale":{"domain":["2018","2020"],"range":["#E4531B","#000000"]},"title":"Kohorta"}}},
 {"data":{"name":"fit"},"transform":[{"filter":"datum.p=='ACEi'"}],"mark":{"type":"area","color":"#999999","opacity":0.4,"interpolate":"monotone"},
  "encoding":{"x":{"field":"x","type":"quantitative","scale":{"domain":[41.3,117.6],"nice":false,"zero":false},"axis":{"orient":"top","title":"ACEi","ticks":false,"labels":false,"domainColor":"#D0D0D0","domainWidth":37,"offset":20,"titlePadding":-3,"titleBaseline":"middle","titleFont":"Liberation Sans","titleFontSize":24,"titleFontWeight":"normal","titleColor":"#1A1A1A"}},
   "y":{"field":"lo","type":"quantitative","scale":{"domain":[-0.149,1.17],"nice":false,"zero":false},"axis":null},"y2":{"field":"hi"}}},
 {"data":{"name":"fit"},"transform":[{"filter":"datum.p=='ACEi'"}],"mark":{"type":"line","color":"#000000","strokeWidth":2.2,"interpolate":"monotone"},
  "encoding":{"x":{"field":"x","type":"quantitative","scale":{"domain":[41.3,117.6],"nice":false,"zero":false},"axis":null},
   "y":{"field":"f","type":"quantitative","scale":{"domain":[-0.149,1.17],"nice":false,"zero":false},"axis":null}}}
]},
{"width":287,"height":159,"resolve":{"axis":{"x":"independent","y":"independent"}},"layer":[
 {"data":{"name":"pts"},"transform":[{"filter":"datum.p=='ARNI'"}],"mark":{"type":"point","filled":true,"opacity":0.6,"size":78,"strokeWidth":0},
  "encoding":{"x":{"field":"x","type":"quantitative","scale":{"domain":[41.3,117.6],"nice":false,"zero":false},"axis":null},
   "y":{"field":"y","type":"quantitative","scale":{"domain":[-0.149,1.17],"nice":false,"zero":false},"axis":null},
   "shape":{"field":"k","type":"nominal","scale":{"domain":["2018","2020"],"range":["triangle-up","square"]},"title":"Kohorta"},
   "color":{"field":"k","type":"nominal","scale":{"domain":["2018","2020"],"range":["#E4531B","#000000"]},"title":"Kohorta"}}},
 {"data":{"name":"fit"},"transform":[{"filter":"datum.p=='ARNI'"}],"mark":{"type":"area","color":"#999999","opacity":0.4,"interpolate":"monotone"},
  "encoding":{"x":{"field":"x","type":"quantitative","scale":{"domain":[41.3,117.6],"nice":false,"zero":false},"axis":{"orient":"top","title":"ARNI","ticks":false,"labels":false,"domainColor":"#D0D0D0","domainWidth":37,"offset":20,"titlePadding":-3,"titleBaseline":"middle","titleFont":"Liberation Sans","titleFontSize":24,"titleFontWeight":"normal","titleColor":"#1A1A1A"}},
   "y":{"field":"lo","type":"quantitative","scale":{"domain":[-0.149,1.17],"nice":false,"zero":false},"axis":null},"y2":{"field":"hi"}}},
 {"data":{"name":"fit"},"transform":[{"filter":"datum.p=='ARNI'"}],"mark":{"type":"line","color":"#000000","strokeWidth":2.2,"interpolate":"monotone"},
  "encoding":{"x":{"field":"x","type":"quantitative","scale":{"domain":[41.3,117.6],"nice":false,"zero":false},"axis":null},
   "y":{"field":"f","type":"quantitative","scale":{"domain":[-0.149,1.17],"nice":false,"zero":false},"axis":null}}}
]},
{"width":287,"height":159,"resolve":{"axis":{"x":"independent","y":"independent"}},"layer":[
 {"data":{"name":"pts"},"transform":[{"filter":"datum.p=='Betablokátory'"}],"mark":{"type":"point","filled":true,"opacity":0.6,"size":78,"strokeWidth":0},
  "encoding":{"x":{"field":"x","type":"quantitative","scale":{"domain":[41.3,117.6],"nice":false,"zero":false},"axis":null},
   "y":{"field":"y","type":"quantitative","scale":{"domain":[-0.149,1.17],"nice":false,"zero":false},"axis":null},
   "shape":{"field":"k","type":"nominal","scale":{"domain":["2018","2020"],"range":["triangle-up","square"]},"title":"Kohorta"},
   "color":{"field":"k","type":"nominal","scale":{"domain":["2018","2020"],"range":["#E4531B","#000000"]},"title":"Kohorta"}}},
 {"data":{"name":"fit"},"transform":[{"filter":"datum.p=='Betablokátory'"}],"mark":{"type":"area","color":"#999999","opacity":0.4,"interpolate":"monotone"},
  "encoding":{"x":{"field":"x","type":"quantitative","scale":{"domain":[41.3,117.6],"nice":false,"zero":false},"axis":{"orient":"top","title":"Betablokátory","ticks":false,"labels":false,"domainColor":"#D0D0D0","domainWidth":37,"offset":20,"titlePadding":-3,"titleBaseline":"middle","titleFont":"Liberation Sans","titleFontSize":24,"titleFontWeight":"normal","titleColor":"#1A1A1A"}},
   "y":{"field":"lo","type":"quantitative","scale":{"domain":[-0.149,1.17],"nice":false,"zero":false},"axis":null},"y2":{"field":"hi"}}},
 {"data":{"name":"fit"},"transform":[{"filter":"datum.p=='Betablokátory'"}],"mark":{"type":"line","color":"#000000","strokeWidth":2.2,"interpolate":"monotone"},
  "encoding":{"x":{"field":"x","type":"quantitative","scale":{"domain":[41.3,117.6],"nice":false,"zero":false},"axis":null},
   "y":{"field":"f","type":"quantitative","scale":{"domain":[-0.149,1.17],"nice":false,"zero":false},"axis":null}}}
]},
{"width":287,"height":159,"resolve":{"axis":{"x":"independent","y":"independent"}},"layer":[
 {"data":{"name":"pts"},"transform":[{"filter":"datum.p=='digoxin'"}],"mark":{"type":"point","filled":true,"opacity":0.6,"size":78,"strokeWidth":0},
  "encoding":{"x":{"field":"x","type":"quantitative","scale":{"domain":[41.3,117.6],"nice":false,"zero":false},"axis":null},
   "y":{"field":"y","type":"quantitative","scale":{"domain":[-0.149,1.17],"nice":false,"zero":false},"axis":{"orient":"left","values":[0,0.5,1],"format":".0%","title":"Adherence","labelPadding":8,"titlePadding":15}},
   "shape":{"field":"k","type":"nominal","scale":{"domain":["2018","2020"],"range":["triangle-up","square"]},"title":"Kohorta"},
   "color":{"field":"k","type":"nominal","scale":{"domain":["2018","2020"],"range":["#E4531B","#000000"]},"title":"Kohorta"}}},
 {"data":{"name":"fit"},"transform":[{"filter":"datum.p=='digoxin'"}],"mark":{"type":"area","color":"#999999","opacity":0.4,"interpolate":"monotone"},
  "encoding":{"x":{"field":"x","type":"quantitative","scale":{"domain":[41.3,117.6],"nice":false,"zero":false},"axis":{"orient":"top","title":"digoxin","ticks":false,"labels":false,"domainColor":"#D0D0D0","domainWidth":37,"offset":20,"titlePadding":-3,"titleBaseline":"middle","titleFont":"Liberation Sans","titleFontSize":24,"titleFontWeight":"normal","titleColor":"#1A1A1A"}},
   "y":{"field":"lo","type":"quantitative","scale":{"domain":[-0.149,1.17],"nice":false,"zero":false},"axis":null},"y2":{"field":"hi"}}},
 {"data":{"name":"fit"},"transform":[{"filter":"datum.p=='digoxin'"}],"mark":{"type":"line","color":"#000000","strokeWidth":2.2,"interpolate":"monotone"},
  "encoding":{"x":{"field":"x","type":"quantitative","scale":{"domain":[41.3,117.6],"nice":false,"zero":false},"axis":null},
   "y":{"field":"f","type":"quantitative","scale":{"domain":[-0.149,1.17],"nice":false,"zero":false},"axis":null}}}
]},
{"width":287,"height":159,"resolve":{"axis":{"x":"independent","y":"independent"}},"layer":[
 {"data":{"name":"pts"},"transform":[{"filter":"datum.p=='Furosemid'"}],"mark":{"type":"point","filled":true,"opacity":0.6,"size":78,"strokeWidth":0},
  "encoding":{"x":{"field":"x","type":"quantitative","scale":{"domain":[41.3,117.6],"nice":false,"zero":false},"axis":null},
   "y":{"field":"y","type":"quantitative","scale":{"domain":[-0.149,1.17],"nice":false,"zero":false},"axis":null},
   "shape":{"field":"k","type":"nominal","scale":{"domain":["2018","2020"],"range":["triangle-up","square"]},"title":"Kohorta"},
   "color":{"field":"k","type":"nominal","scale":{"domain":["2018","2020"],"range":["#E4531B","#000000"]},"title":"Kohorta"}}},
 {"data":{"name":"fit"},"transform":[{"filter":"datum.p=='Furosemid'"}],"mark":{"type":"area","color":"#999999","opacity":0.4,"interpolate":"monotone"},
  "encoding":{"x":{"field":"x","type":"quantitative","scale":{"domain":[41.3,117.6],"nice":false,"zero":false},"axis":{"orient":"top","title":"Furosemid","ticks":false,"labels":false,"domainColor":"#D0D0D0","domainWidth":37,"offset":20,"titlePadding":-3,"titleBaseline":"middle","titleFont":"Liberation Sans","titleFontSize":24,"titleFontWeight":"normal","titleColor":"#1A1A1A"}},
   "y":{"field":"lo","type":"quantitative","scale":{"domain":[-0.149,1.17],"nice":false,"zero":false},"axis":null},"y2":{"field":"hi"}}},
 {"data":{"name":"fit"},"transform":[{"filter":"datum.p=='Furosemid'"}],"mark":{"type":"line","color":"#000000","strokeWidth":2.2,"interpolate":"monotone"},
  "encoding":{"x":{"field":"x","type":"quantitative","scale":{"domain":[41.3,117.6],"nice":false,"zero":false},"axis":null},
   "y":{"field":"f","type":"quantitative","scale":{"domain":[-0.149,1.17],"nice":false,"zero":false},"axis":null}}}
]},
{"width":287,"height":159,"resolve":{"axis":{"x":"independent","y":"independent"}},"layer":[
 {"data":{"name":"pts"},"transform":[{"filter":"datum.p=='MRA'"}],"mark":{"type":"point","filled":true,"opacity":0.6,"size":78,"strokeWidth":0},
  "encoding":{"x":{"field":"x","type":"quantitative","scale":{"domain":[41.3,117.6],"nice":false,"zero":false},"axis":{"orient":"bottom","values":[60,80,100],"title":null}},
   "y":{"field":"y","type":"quantitative","scale":{"domain":[-0.149,1.17],"nice":false,"zero":false},"axis":null},
   "shape":{"field":"k","type":"nominal","scale":{"domain":["2018","2020"],"range":["triangle-up","square"]},"title":"Kohorta"},
   "color":{"field":"k","type":"nominal","scale":{"domain":["2018","2020"],"range":["#E4531B","#000000"]},"title":"Kohorta"}}},
 {"data":{"name":"fit"},"transform":[{"filter":"datum.p=='MRA'"}],"mark":{"type":"area","color":"#999999","opacity":0.4,"interpolate":"monotone"},
  "encoding":{"x":{"field":"x","type":"quantitative","scale":{"domain":[41.3,117.6],"nice":false,"zero":false},"axis":{"orient":"top","title":"MRA","ticks":false,"labels":false,"domainColor":"#D0D0D0","domainWidth":37,"offset":20,"titlePadding":-3,"titleBaseline":"middle","titleFont":"Liberation Sans","titleFontSize":24,"titleFontWeight":"normal","titleColor":"#1A1A1A"}},
   "y":{"field":"lo","type":"quantitative","scale":{"domain":[-0.149,1.17],"nice":false,"zero":false},"axis":null},"y2":{"field":"hi"}}},
 {"data":{"name":"fit"},"transform":[{"filter":"datum.p=='MRA'"}],"mark":{"type":"line","color":"#000000","strokeWidth":2.2,"interpolate":"monotone"},
  "encoding":{"x":{"field":"x","type":"quantitative","scale":{"domain":[41.3,117.6],"nice":false,"zero":false},"axis":null},
   "y":{"field":"f","type":"quantitative","scale":{"domain":[-0.149,1.17],"nice":false,"zero":false},"axis":null}}}
]},
{"width":287,"height":159,"resolve":{"axis":{"x":"independent","y":"independent"}},"layer":[
 {"data":{"name":"pts"},"transform":[{"filter":"datum.p=='Sartany'"}],"mark":{"type":"point","filled":true,"opacity":0.6,"size":78,"strokeWidth":0},
  "encoding":{"x":{"field":"x","type":"quantitative","scale":{"domain":[41.3,117.6],"nice":false,"zero":false},"axis":{"orient":"bottom","values":[60,80,100],"title":null}},
   "y":{"field":"y","type":"quantitative","scale":{"domain":[-0.149,1.17],"nice":false,"zero":false},"axis":{"orient":"left","values":[0,0.5,1],"format":".0%","title":null,"labelPadding":8}},
   "shape":{"field":"k","type":"nominal","scale":{"domain":["2018","2020"],"range":["triangle-up","square"]},"title":"Kohorta"},
   "color":{"field":"k","type":"nominal","scale":{"domain":["2018","2020"],"range":["#E4531B","#000000"]},"title":"Kohorta"}}},
 {"data":{"name":"fit"},"transform":[{"filter":"datum.p=='Sartany'"}],"mark":{"type":"area","color":"#999999","opacity":0.4,"interpolate":"monotone"},
  "encoding":{"x":{"field":"x","type":"quantitative","scale":{"domain":[41.3,117.6],"nice":false,"zero":false},"axis":{"orient":"top","title":"Sartany","ticks":false,"labels":false,"domainColor":"#D0D0D0","domainWidth":37,"offset":20,"titlePadding":-3,"titleBaseline":"middle","titleFont":"Liberation Sans","titleFontSize":24,"titleFontWeight":"normal","titleColor":"#1A1A1A"}},
   "y":{"field":"lo","type":"quantitative","scale":{"domain":[-0.149,1.17],"nice":false,"zero":false},"axis":null},"y2":{"field":"hi"}}},
 {"data":{"name":"fit"},"transform":[{"filter":"datum.p=='Sartany'"}],"mark":{"type":"line","color":"#000000","strokeWidth":2.2,"interpolate":"monotone"},
  "encoding":{"x":{"field":"x","type":"quantitative","scale":{"domain":[41.3,117.6],"nice":false,"zero":false},"axis":null},
   "y":{"field":"f","type":"quantitative","scale":{"domain":[-0.149,1.17],"nice":false,"zero":false},"axis":null}}}
]},
{"width":287,"height":159,"resolve":{"axis":{"x":"independent","y":"independent"}},"layer":[
 {"data":{"name":"pts"},"transform":[{"filter":"datum.p=='Statiny'"}],"mark":{"type":"point","filled":true,"opacity":0.6,"size":78,"strokeWidth":0},
  "encoding":{"x":{"field":"x","type":"quantitative","scale":{"domain":[41.3,117.6],"nice":false,"zero":false},"axis":{"orient":"bottom","values":[60,80,100],"title":"Diastolický krevní tlak","titleX":162.5,"titlePadding":17}},
   "y":{"field":"y","type":"quantitative","scale":{"domain":[-0.149,1.17],"nice":false,"zero":false},"axis":null},
   "shape":{"field":"k","type":"nominal","scale":{"domain":["2018","2020"],"range":["triangle-up","square"]},"title":"Kohorta"},
   "color":{"field":"k","type":"nominal","scale":{"domain":["2018","2020"],"range":["#E4531B","#000000"]},"title":"Kohorta"}}},
 {"data":{"name":"fit"},"transform":[{"filter":"datum.p=='Statiny'"}],"mark":{"type":"area","color":"#999999","opacity":0.4,"interpolate":"monotone"},
  "encoding":{"x":{"field":"x","type":"quantitative","scale":{"domain":[41.3,117.6],"nice":false,"zero":false},"axis":{"orient":"top","title":"Statiny","ticks":false,"labels":false,"domainColor":"#D0D0D0","domainWidth":37,"offset":20,"titlePadding":-3,"titleBaseline":"middle","titleFont":"Liberation Sans","titleFontSize":24,"titleFontWeight":"normal","titleColor":"#1A1A1A"}},
   "y":{"field":"lo","type":"quantitative","scale":{"domain":[-0.149,1.17],"nice":false,"zero":false},"axis":null},"y2":{"field":"hi"}}},
 {"data":{"name":"fit"},"transform":[{"filter":"datum.p=='Statiny'"}],"mark":{"type":"line","color":"#000000","strokeWidth":2.2,"interpolate":"monotone"},
  "encoding":{"x":{"field":"x","type":"quantitative","scale":{"domain":[41.3,117.6],"nice":false,"zero":false},"axis":null},
   "y":{"field":"f","type":"quantitative","scale":{"domain":[-0.149,1.17],"nice":false,"zero":false},"axis":null}}}
]}
],
"config":{
 "view":{"stroke":null},
 "axis":{"grid":false,"domainColor":"#333333","domainWidth":1.3,"tickColor":"#333333","tickWidth":1.3,"tickSize":6,"labelFont":"Liberation Sans","labelFontSize":22,"labelColor":"#4D4D4D","labelPadding":10,"titleFont":"Open Sans","titleFontSize":26,"titleFontWeight":"bold","titleColor":"#000000"},
 "legend":{"orient":"none","legendX":921,"legendY":244,"titleFont":"Open Sans","titleFontSize":25,"titleFontWeight":"normal","titleColor":"#1A1A1A","labelFont":"Open Sans","labelFontSize":22,"labelColor":"#1A1A1A","symbolSize":220,"symbolOpacity":1,"symbolStrokeWidth":0,"rowPadding":11,"titlePadding":18,"labelOffset":14,"symbolOffset":6}
}
}
